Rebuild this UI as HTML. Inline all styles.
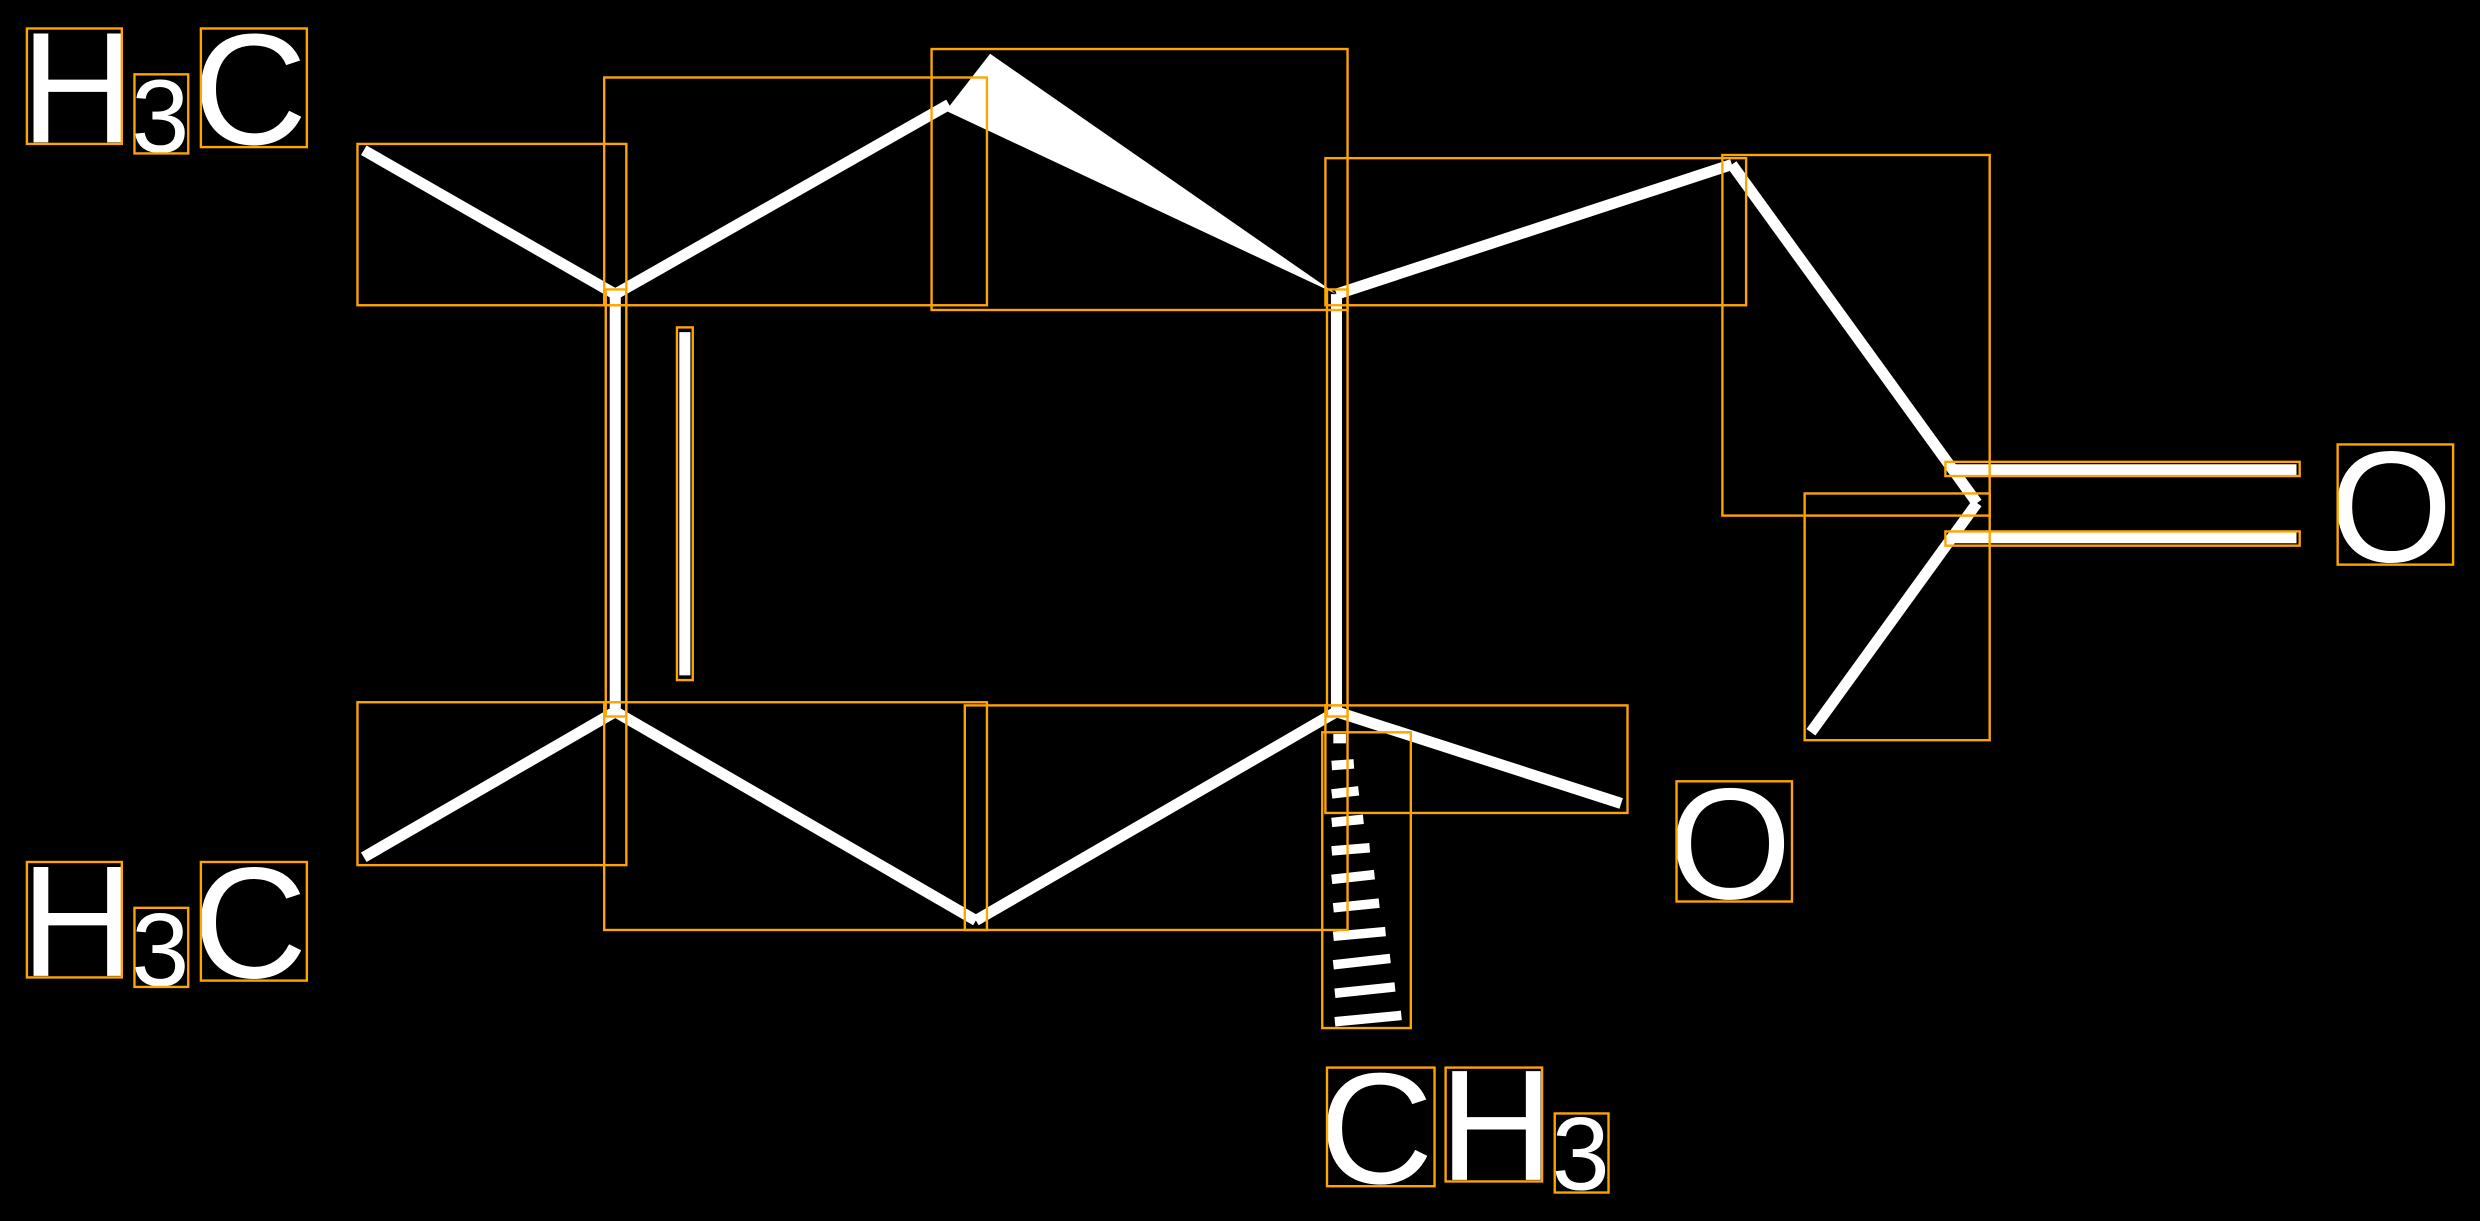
<!DOCTYPE html>
<html><head><meta charset="utf-8"><style>html,body{margin:0;padding:0;background:#000;overflow:hidden}svg{display:block}</style></head>
<body>
<svg width="2480" height="1221" viewBox="0 0 1568 772" xmlns="http://www.w3.org/2000/svg">
<rect width="1568" height="772" fill="#000"/>
<g stroke="#fff" stroke-width="7" stroke-linecap="butt" fill="none">
<line x1="230" y1="95" x2="389" y2="186"/>
<line x1="389" y1="186" x2="600" y2="66"/>
<line x1="389" y1="186" x2="389" y2="450"/>
<line x1="433" y1="210" x2="433" y2="427"/>
<line x1="230" y1="542" x2="389" y2="450"/>
<line x1="389" y1="450" x2="617" y2="582"/>
<line x1="617" y1="582" x2="845" y2="450"/>
<line x1="845" y1="186" x2="845" y2="450"/>
<line x1="845" y1="450" x2="1025" y2="508"/>
<line x1="845" y1="186" x2="1095" y2="104"/>
<line x1="1095" y1="104" x2="1250" y2="318"/>
<line x1="1250" y1="318" x2="1145" y2="463"/>
<line x1="1233" y1="297" x2="1452" y2="297"/>
<line x1="1233" y1="340" x2="1452" y2="340"/>
</g>
<polygon points="845,186 626,34 598,70" fill="#fff"/>
<g stroke="#fff" stroke-width="6">
<line x1="843" y1="467" x2="851" y2="467"/>
<line x1="842" y1="484" x2="856" y2="483"/>
<line x1="842" y1="502" x2="859" y2="500"/>
<line x1="842" y1="520" x2="862" y2="518"/>
<line x1="842" y1="538" x2="866" y2="536"/>
<line x1="842" y1="556" x2="869" y2="553"/>
<line x1="843" y1="574" x2="872" y2="571"/>
<line x1="843" y1="592" x2="876" y2="589"/>
<line x1="843" y1="610" x2="879" y2="606"/>
<line x1="844" y1="628" x2="882" y2="624"/>
<line x1="844" y1="646" x2="886" y2="642"/>
</g>
<g fill="#fff" font-family="Liberation Sans, sans-serif">
<text x="13" y="90" font-size="100">H</text>
<text x="83" y="96" font-size="66">3</text>
<text x="122" y="91" font-size="100">C</text>
<text x="13" y="617" font-size="100">H</text>
<text x="83" y="623" font-size="66">3</text>
<text x="122" y="618" font-size="100">C</text>
<text x="834" y="748" font-size="100">C</text>
<text x="910" y="746" font-size="100">H</text>
<text x="981" y="752" font-size="66">3</text>
<text x="1473" y="355" font-size="100">O</text>
<text x="1055" y="568" font-size="100">O</text>
</g>
<g stroke="#FFA500" stroke-width="1.5" fill="none">
<rect x="17" y="18" width="60" height="73"/><rect x="85" y="47" width="34" height="50"/><rect x="127" y="18" width="67" height="75"/>
<rect x="17" y="545" width="60" height="73"/><rect x="85" y="574" width="34" height="50"/><rect x="127" y="545" width="67" height="75"/>
<rect x="839" y="675" width="68" height="75"/><rect x="914" y="675" width="61" height="72"/><rect x="983" y="704" width="34" height="50"/>
<rect x="1478" y="281" width="73" height="76"/><rect x="1060" y="494" width="73" height="76"/>
<rect x="226" y="91" width="170" height="102"/><rect x="382" y="49" width="242" height="144"/>
<rect x="589" y="31" width="263" height="165"/><rect x="838" y="100" width="266" height="93"/>
<rect x="1089" y="98" width="169" height="228"/><rect x="1141" y="312" width="117" height="156"/>
<rect x="1230" y="292" width="224" height="9"/><rect x="1230" y="336" width="224" height="9"/>
<rect x="428" y="207" width="10" height="223"/><rect x="383" y="183" width="13" height="270"/>
<rect x="839" y="183" width="13" height="270"/><rect x="226" y="444" width="170" height="103"/>
<rect x="382" y="444" width="242" height="144"/><rect x="610" y="446" width="242" height="142"/>
<rect x="838" y="446" width="191" height="68"/><rect x="836" y="463" width="56" height="187"/>
</g>
</svg>
</body></html>
